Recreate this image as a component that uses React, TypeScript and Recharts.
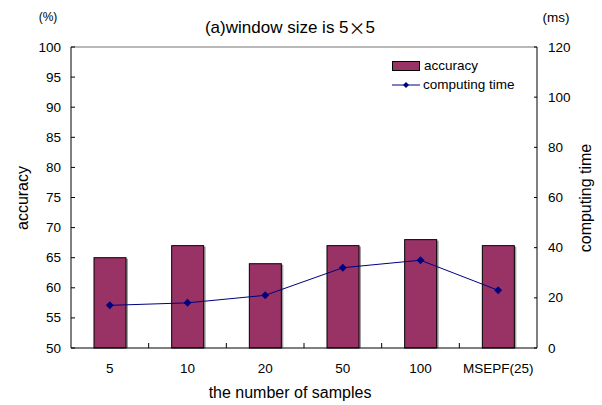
import {
  Bar,
  ComposedChart,
  Line,
  XAxis,
  YAxis,
  ReferenceLine,
} from 'recharts';

const samples = ['5', '10', '20', '50', '100', 'MSEPF(25)'];
const accuracy = [65, 67, 64, 67, 68, 67];
const computingTime = [17, 18, 21, 32, 35, 23];
const accuracyTicks = [50, 55, 60, 65, 70, 75, 80, 85, 90, 95, 100];
const timeTicks = [0, 20, 40, 60, 80, 100, 120];

const data = samples.map((s, i) => ({
  name: s,
  accuracy: accuracy[i],
  time: computingTime[i],
}));

const FONT = '"Liberation Sans", Arial, sans-serif';
const CJK = '"Noto Sans CJK JP", sans-serif';

const BarShape = (props: any) => {
  const { x, y, width, height } = props;
  return (
    <g>
      <rect x={x + 2} y={y + 1} width={width} height={height - 1} fill="#a0a0a0" />
      <rect x={x} y={y} width={width} height={height} fill="#993366" stroke="#000" strokeWidth={1} />
    </g>
  );
};

const Diamond = (props: any) => {
  const { cx, cy } = props;
  return <path d={`M${cx},${cy - 4}L${cx + 4},${cy}L${cx},${cy + 4}L${cx - 4},${cy}Z`} fill="#000080" />;
};

const LeftTick = (props: any) => {
  const { x, y, payload } = props;
  return (
    <g>
      <line x1={x} x2={x + 4} y1={y} y2={y} stroke="#000" />
      <text x={x - 10} y={y} textAnchor="end" dominantBaseline="central" fontSize={13.5} fontFamily={FONT} fill="#000">
        {payload.value}
      </text>
    </g>
  );
};

const RightTick = (props: any) => {
  const { x, y, payload } = props;
  return (
    <g>
      <line x1={x - 3} x2={x} y1={y} y2={y} stroke="#000" />
      <text x={x + 11} y={y} textAnchor="start" dominantBaseline="central" fontSize={13.5} fontFamily={FONT} fill="#000">
        {payload.value}
      </text>
    </g>
  );
};

const BottomTick = (props: any) => {
  const { x, y, payload, index } = props;
  const edge = x - (payload.offset || 0);
  return (
    <g>
      {index > 0 && <line x1={edge} x2={edge} y1={y} y2={y - 5} stroke="#000" />}
      <text x={x} y={y + 20} textAnchor="middle" dominantBaseline="central" fontSize={13.5} fontFamily={FONT} fill="#000">
        {payload.value}
      </text>
    </g>
  );
};

const LegendBox = () => (
  <div
    style={{
      position: 'absolute',
      left: 392,
      top: 56,
      fontFamily: FONT,
      fontSize: 13.5,
      color: '#000',
      lineHeight: '19px',
    }}
  >
    <div style={{ display: 'flex', alignItems: 'center' }}>
      <span style={{ display: 'inline-block', width: 26, height: 8, background: '#993366', border: '1px solid #000', marginRight: 4 }} />
      accuracy
    </div>
    <div style={{ display: 'flex', alignItems: 'center' }}>
      <svg width={28} height={10} style={{ marginRight: 3 }}>
        <line x1={0} x2={28} y1={5} y2={5} stroke="#000080" />
        <path d="M14,2L17,5L14,8L11,5Z" fill="#000080" />
      </svg>
      computing time
    </div>
  </div>
);

export default function App() {
  return (
    <div style={{ position: 'absolute', left: 0, top: 0, width: 602, height: 405, background: '#fff' }}>
      <ComposedChart width={602} height={405} data={data} margin={{ top: 47, right: 0, left: 0, bottom: 0 }}>
        <XAxis
          dataKey="name"
          height={57}
          tickLine={false}
          tickSize={0}
          tickMargin={0}
          tick={<BottomTick />}
          axisLine={{ stroke: '#000' }}
          interval={0}
        />
        <YAxis
          yAxisId="left"
          orientation="left"
          width={71}
          domain={[50, 100]}
          ticks={accuracyTicks}
          tickLine={false}
          tickSize={0}
          tickMargin={0}
          tick={<LeftTick />}
          axisLine={{ stroke: '#000' }}
        />
        <YAxis
          yAxisId="right"
          orientation="right"
          width={65}
          domain={[0, 120]}
          ticks={timeTicks}
          tickLine={false}
          tickSize={0}
          tickMargin={0}
          tick={<RightTick />}
          axisLine={{ stroke: '#000' }}
        />
        <ReferenceLine yAxisId="left" y={100} stroke="#a0a0a0" strokeWidth={1.5} />
        <Bar yAxisId="left" dataKey="accuracy" barSize={32} shape={<BarShape />} isAnimationActive={false} />
        <Line
          yAxisId="right"
          dataKey="time"
          stroke="#000080"
          strokeWidth={1}
          dot={<Diamond />}
          activeDot={false}
          isAnimationActive={false}
        />
        <text x={290} y={27} textAnchor="middle" dominantBaseline="central" fontSize={17} fontFamily={FONT} fill="#000">
          (a)window size is 5<tspan fontFamily={CJK}>×</tspan>5
        </text>
        <text x={48} y={17} textAnchor="middle" dominantBaseline="central" fontSize={12} fontFamily={FONT} fill="#000">
          (%)
        </text>
        <text x={556} y={17} textAnchor="middle" dominantBaseline="central" fontSize={13.5} fontFamily={FONT} fill="#000">
          (ms)
        </text>
        <text x={290} y={392} textAnchor="middle" dominantBaseline="central" fontSize={16} fontFamily={FONT} fill="#000">
          the number of samples
        </text>
        <text
          x={22}
          y={198}
          textAnchor="middle"
          dominantBaseline="central"
          fontSize={16}
          fontFamily={FONT}
          fill="#000"
          transform="rotate(-90 22 198)"
        >
          accuracy
        </text>
        <text
          x={585}
          y={198}
          textAnchor="middle"
          dominantBaseline="central"
          fontSize={16}
          fontFamily={FONT}
          fill="#000"
          transform="rotate(-90 585 198)"
        >
          computing time
        </text>
      </ComposedChart>
      <LegendBox />
    </div>
  );
}
